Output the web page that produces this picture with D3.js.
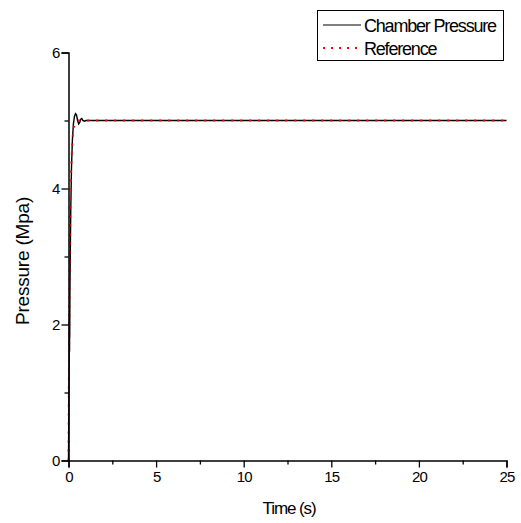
<!DOCTYPE html>
<html>
<head>
<meta charset="utf-8">
<script src="https://cdn.jsdelivr.net/npm/d3@7"></script>
<style>
  html, body { margin: 0; padding: 0; background: #fff; }
  svg text { font-family: "Liberation Sans", Arial, sans-serif; fill: #000; }
</style>
</head>
<body>
<svg id="chart" width="521" height="523"></svg>
<script>
// Chamber pressure step response (time in s, pressure in MPa)
const chamberTime = [0, 0.02, 0.04, 0.05, 0.06, 0.065, 0.07, 0.08, 0.10, 0.13, 0.17, 0.22, 0.28, 0.34, 0.40, 0.46, 0.52, 0.58, 0.64, 0.70, 0.76, 0.82, 0.90, 1.0, 1.2, 25];
const chamberPressure = [0, 0.8, 1.5, 2.1, 1.6, 2.2, 1.8, 2.4, 3.0, 3.7, 4.3, 4.7, 4.95, 5.06, 5.10, 5.08, 5.0, 4.95, 4.97, 5.02, 5.03, 5.0, 4.99, 5.0, 5.0, 5.0];

// Reference pressure trajectory
const refTime = [0, 0.01, 0.02, 0.03, 0.04, 0.05, 0.06, 0.08, 0.10, 0.12, 0.15, 0.19, 0.25, 0.30, 0.38, 0.50, 25];
const refPressure = [0, 0.6, 1.1, 1.6, 1.9, 2.3, 2.6, 3.1, 3.6, 3.9, 4.3, 4.55, 4.8, 4.9, 4.95, 5.0, 5.0];

const xMajorTicks = [0, 5, 10, 15, 20, 25];
const xMinorTicks = [2.5, 7.5, 12.5, 17.5, 22.5];
const yMajorTicks = [0, 2, 4, 6];
const yMinorTicks = [1, 3, 5];

const seriesNames = ["Chamber Pressure", "Reference"];

const svg = d3.select("#chart");
const plotLeft = 68.5, plotRight = 506.5, plotTop = 52.5, plotBottom = 460.5;

const x = d3.scaleLinear().domain([0, 25]).range([plotLeft, plotRight]);
const y = d3.scaleLinear().domain([0, 6]).range([plotBottom, plotTop]);

// Data lines
const chamber = chamberTime.map((t, i) => [t, chamberPressure[i]]);
const reference = refTime.map((t, i) => [t, refPressure[i]]);
const line = d3.line().x(d => x(d[0])).y(d => y(d[1]));

svg.append("path").datum(chamber)
  .attr("d", line).attr("fill", "none")
  .attr("stroke", "#000").attr("stroke-width", 1.4);

svg.append("path").datum(reference)
  .attr("d", line).attr("fill", "none")
  .attr("stroke", "#ff0000").attr("stroke-width", 2)
  .attr("stroke-dasharray", "2,7");

// Axes
svg.append("g").attr("transform", `translate(0,${plotBottom})`)
  .call(d3.axisBottom(x).tickValues(xMajorTicks).tickSize(7).tickPadding(4).tickFormat(d3.format("d")));
svg.append("g").attr("transform", `translate(0,${plotBottom})`)
  .call(d3.axisBottom(x).tickValues(xMinorTicks).tickSize(4).tickFormat(""))
  .select(".domain").remove();

svg.append("g").attr("transform", `translate(${plotLeft},0)`)
  .call(d3.axisLeft(y).tickValues(yMajorTicks).tickSize(7).tickPadding(2).tickFormat(d3.format("d")));
svg.append("g").attr("transform", `translate(${plotLeft},0)`)
  .call(d3.axisLeft(y).tickValues(yMinorTicks).tickSize(4).tickFormat(""))
  .select(".domain").remove();

svg.selectAll(".domain").attr("stroke", "#000").attr("stroke-width", 1.5);
svg.selectAll(".tick line").attr("stroke", "#000").attr("stroke-width", 1.3);
svg.selectAll(".tick text").style("font-size", "15px").style("letter-spacing", "-0.9px");

// Axis titles
svg.append("text").attr("x", 289).attr("y", 514)
  .attr("text-anchor", "middle").style("font-size", "17px").style("letter-spacing", "-1.1px")
  .text("Time (s)");
svg.append("text")
  .attr("transform", `translate(29,261) rotate(-90)`)
  .attr("text-anchor", "middle").style("font-size", "19px").style("letter-spacing", "-0.2px")
  .text("Pressure (Mpa)");

// Legend
const lg = svg.append("g");
lg.append("rect").attr("x", 317.5).attr("y", 10.5).attr("width", 186).attr("height", 50)
  .attr("fill", "#fff").attr("stroke", "#000").attr("stroke-width", 1);
const legendStyles = [
  { stroke: "#000", dash: null, width: 1.2 },
  { stroke: "#ff0000", dash: "2,6", width: 2 }
];
seriesNames.forEach((name, i) => {
  const cy = 25 + i * 23;
  lg.append("line").attr("x1", 323).attr("x2", 361).attr("y1", cy).attr("y2", cy)
    .attr("stroke", legendStyles[i].stroke).attr("stroke-width", legendStyles[i].width)
    .attr("stroke-dasharray", legendStyles[i].dash);
  lg.append("text").attr("x", 364).attr("y", cy + 6.5)
    .style("font-size", "18px").style("letter-spacing", "-1.2px")
    .text(name);
});
</script>
</body>
</html>
